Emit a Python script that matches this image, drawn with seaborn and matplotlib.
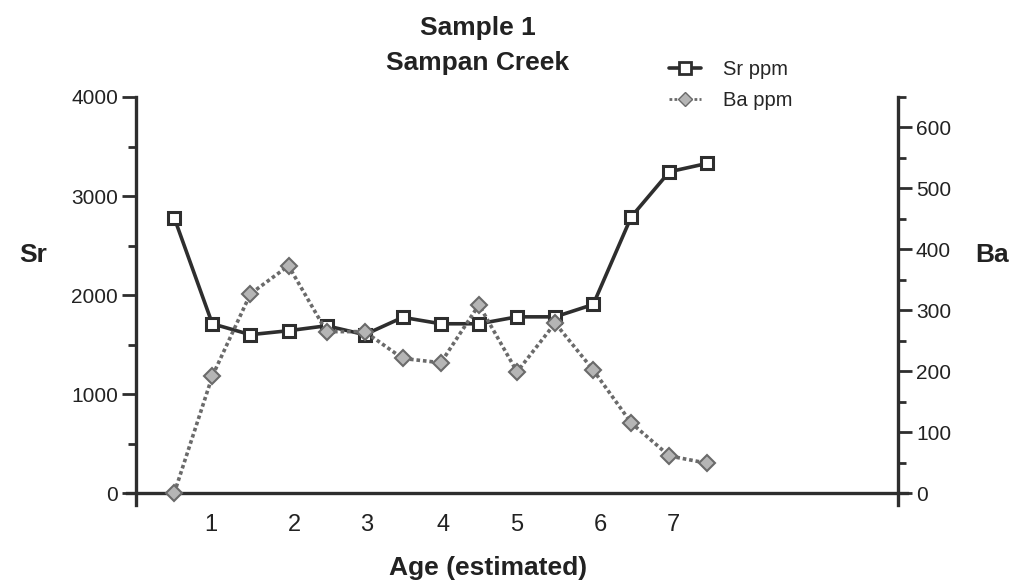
import seaborn as sns
import matplotlib.pyplot as plt
from matplotlib.lines import Line2D
from matplotlib.ticker import MultipleLocator

# sample positions along the core and measured concentrations
sample = list(range(1, 16))
sr_ppm = [2780, 1710, 1600, 1640, 1690, 1600, 1775, 1710, 1710, 1780, 1780, 1905, 2790, 3245, 3330]
ba_ppm = [0, 192, 327, 373, 265, 265, 221, 214, 309, 199, 279, 202, 115, 61, 49]

# hand placed age labels under the axis
age_labels = ["1", "2", "3", "4", "5", "6", "7"]
age_label_pos = [1.95, 4.15, 6.05, 8.05, 10.0, 12.2, 14.1]

sns.set_style("white")
plt.rcParams["font.family"] = ["Liberation Sans", "DejaVu Sans"]

ink = "#2e2e2e"
ba_col = "#6a6a6a"

fig = plt.figure(figsize=(10.18, 5.86), dpi=100)
ax = fig.add_axes([0.1244, 0.1382, 0.767, 0.6963])
ax2 = ax.twinx()

sns.lineplot(x=sample, y=sr_ppm, ax=ax, color=ink, linewidth=2.6, marker="s",
             markersize=9, markerfacecolor="white", markeredgecolor=ink,
             markeredgewidth=2.2, legend=False)
sns.lineplot(x=sample, y=ba_ppm, ax=ax2, color=ba_col, linewidth=2.6, linestyle=(0, (1, 0.8)),
             marker="D", markersize=8, markerfacecolor="#b5b5b5",
             markeredgecolor=ba_col, markeredgewidth=1.5, legend=False)

ax.set_xlim(-0.25, 20.25)
ax.set_ylim(-120, 4000)
ax2.set_ylim(-19.5, 650)

for a in (ax, ax2):
    for s in a.spines.values():
        s.set_visible(False)
        s.set_linewidth(2.4)
        s.set_color(ink)

ax.spines["left"].set_visible(True)
ax.spines["left"].set_position(("data", 0))
ax.spines["bottom"].set_visible(True)
ax.spines["bottom"].set_position(("data", 0))
ax2.spines["right"].set_visible(True)
ax2.spines["right"].set_position(("data", 20))

ax.yaxis.set_major_locator(MultipleLocator(1000))
ax.yaxis.set_minor_locator(MultipleLocator(500))
ax2.yaxis.set_major_locator(MultipleLocator(100))
ax2.yaxis.set_minor_locator(MultipleLocator(50))
ax.set_xticks([10])
ax.set_xticks([5, 15], minor=True)
ax.set_xticklabels([])

ax.tick_params(axis="y", which="major", direction="out", length=10, width=2, color=ink,
               labelsize=15, labelcolor="#222222", pad=3)
ax.tick_params(axis="y", which="minor", direction="out", length=6, width=2, color=ink)
ax.tick_params(axis="x", which="major", direction="out", length=10, width=2, color=ink)
ax.tick_params(axis="x", which="minor", direction="out", length=6, width=2, color=ink)
ax2.tick_params(axis="y", which="major", direction="out", length=10, width=2, color=ink,
                labelsize=15, labelcolor="#222222", pad=3)
ax2.tick_params(axis="y", which="minor", direction="out", length=6, width=2, color=ink)
ax.set_xlabel("")
ax.set_ylabel("")
ax2.set_ylabel("")

for pos, lab in zip(age_label_pos, age_labels):
    ax.text(pos, -320, lab, ha="center", va="center", fontsize=17, color="#222222", clip_on=False)

fig.text(478 / 1018, 1 - 28 / 586, "Sample 1", ha="center", va="center",
         fontsize=19, weight="bold", color="#222222")
fig.text(478 / 1018, 1 - 63 / 586, "Sampan Creek", ha="center", va="center",
         fontsize=19, weight="bold", color="#222222")
fig.text(33 / 1018, 1 - 255 / 586, "Sr", ha="center", va="center",
         fontsize=19, weight="bold", color="#222222")
fig.text(992 / 1018, 1 - 255 / 586, "Ba", ha="center", va="center",
         fontsize=19, weight="bold", color="#222222")
fig.text(488 / 1018, 1 - 568 / 586, "Age (estimated)", ha="center", va="center",
         fontsize=19, weight="bold", color="#222222")

handles = [
    Line2D([], [], color=ink, linewidth=2.6, marker="s", markersize=8,
           markerfacecolor="white", markeredgecolor=ink, markeredgewidth=2),
    Line2D([], [], color=ba_col, linewidth=2, linestyle=(0, (1, 0.8)), marker="D",
           markersize=7, markerfacecolor="#b5b5b5", markeredgecolor=ba_col),
]
fig.legend(handles=handles, labels=["Sr ppm", "Ba ppm"], loc="upper left",
           bbox_to_anchor=(669 / 1018, 1 - 60 / 586), frameon=False, fontsize=14.5,
           handlelength=1.6, handletextpad=1.1, labelspacing=0.6, borderpad=0,
           borderaxespad=0)

fig.savefig("out.png", dpi=100)
